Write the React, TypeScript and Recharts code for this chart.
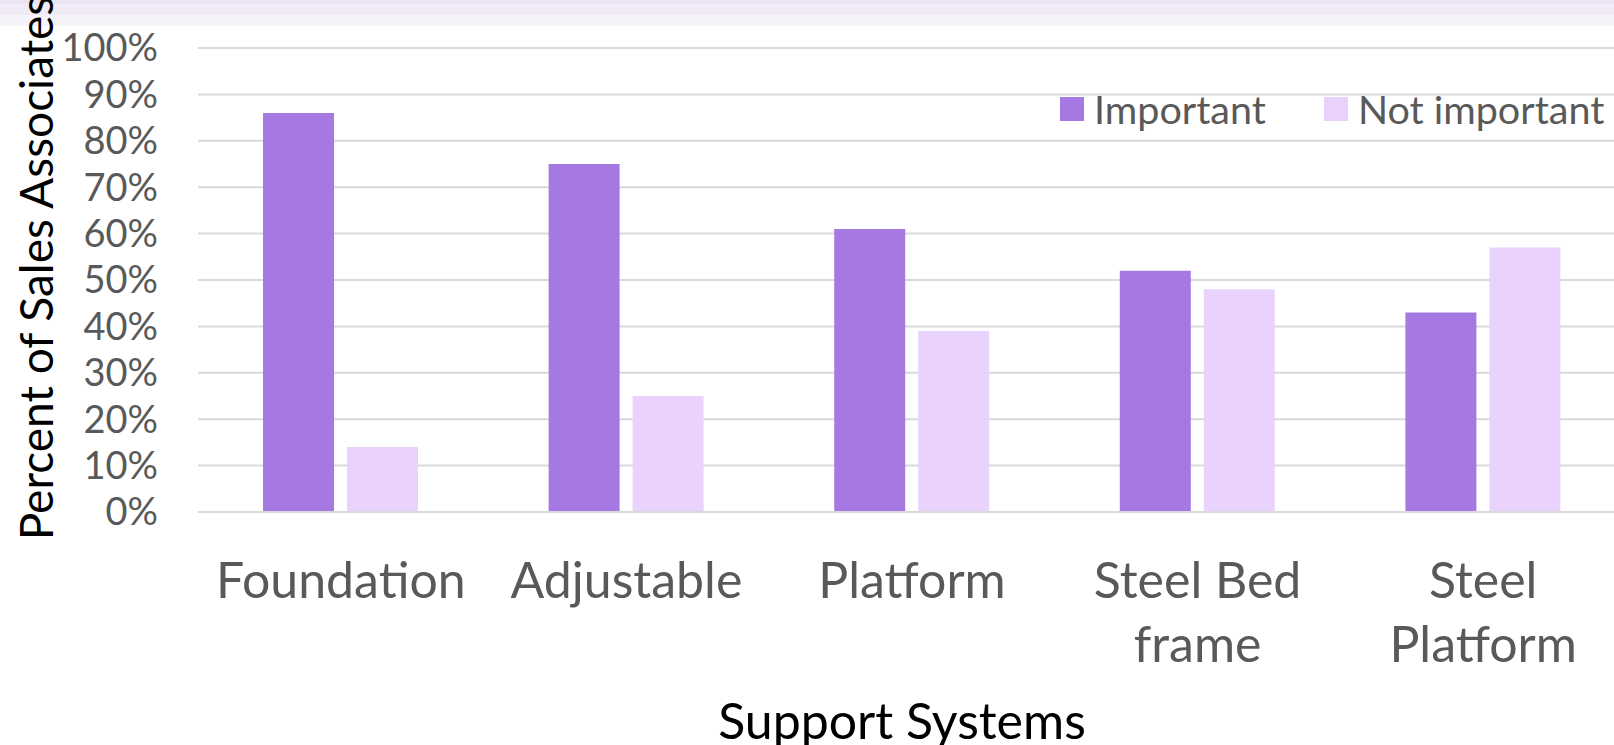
import React from 'react';
import { BarChart, Bar, XAxis, YAxis, CartesianGrid } from 'recharts';

const categories = ['Foundation', 'Adjustable', 'Platform', 'Steel Bed frame', 'Steel Platform'];
const important = [86, 75, 61, 52, 43];
const notImportant = [14, 25, 39, 48, 57];
const yTicks = [0, 10, 20, 30, 40, 50, 60, 70, 80, 90, 100];

const FONT = 'Lato, "Noto Sans", sans-serif';
const TEXT_GRAY = '#595959';
const PURPLE = '#a678e2';
const LILAC = '#e9d2fd';

const series = [
  { key: 'important', name: 'Important', color: PURPLE },
  { key: 'notImportant', name: 'Not important', color: LILAC },
];

const data = categories.map((name, i) => ({
  name,
  important: important[i],
  notImportant: notImportant[i],
}));

// split multi-word labels at the last space, like Excel does here
const wrapLabel = (s: string) => {
  const idx = s.lastIndexOf(' ');
  if (idx < 0) return [s];
  return [s.slice(0, idx), s.slice(idx + 1)];
};

const CategoryTick = (props: any) => {
  const { x, y, payload } = props;
  const lines = wrapLabel(payload.value);
  return (
    <text x={x} y={y} textAnchor="middle" fill={TEXT_GRAY} fontSize={50} fontFamily={FONT}>
      {lines.map((l, i) => (
        <tspan key={i} x={x} dy={i === 0 ? 84 : 64}>
          {l}
        </tspan>
      ))}
    </text>
  );
};

const App: React.FC = () => {
  return (
    <div style={{ position: 'fixed', left: 0, top: 0, width: 1614, height: 745, overflow: 'hidden', background: '#fff' }}>
      <div style={{ position: 'absolute', left: 0, top: 0, width: 1614, height: 4, background: '#ebe5f3' }} />
      <div style={{ position: 'absolute', left: 0, top: 4, width: 1614, height: 11, background: '#f0ebf7' }} />
      <div style={{ position: 'absolute', left: 0, top: 15, width: 1614, height: 11, background: '#f6f2fa' }} />
      <div style={{ position: 'absolute', left: 0, top: 0 }}>
        <BarChart
          width={1640}
          height={745}
          data={data}
          margin={{ top: 48, right: 14, left: 2, bottom: 0 }}
          barGap={13}
          barSize={71}
        >
          <CartesianGrid vertical={false} stroke="#d9d9d9" strokeWidth={2} />
          <XAxis
            dataKey="name"
            height={233}
            tickLine={false}
            tickSize={0}
            axisLine={{ stroke: '#d9d9d9', strokeWidth: 2 }}
            tick={<CategoryTick />}
            interval={0}
            label={{
              content: () => (
                <text x={902} y={739} textAnchor="middle" fill="#000" fontSize={50} fontFamily={FONT}>
                  Support Systems
                </text>
              ),
            }}
          />
          <YAxis
            width={196}
            domain={[0, 100]}
            ticks={yTicks}
            tickFormatter={(v: number) => `${v}%`}
            axisLine={false}
            tickLine={false}
            tickSize={0}
            tickMargin={40}
            tick={{ fill: TEXT_GRAY, fontSize: 38, fontFamily: FONT }}
            interval={0}
            label={{
              content: () => (
                <text
                  x={53}
                  y={268}
                  transform="rotate(-90 53 268)"
                  textAnchor="middle"
                  fill="#000"
                  fontSize={46}
                  fontFamily={FONT}
                >
                  Percent of Sales Associates
                </text>
              ),
            }}
          />
          {series.map((s) => (
            <Bar key={s.key} dataKey={s.key} name={s.name} fill={s.color} isAnimationActive={false} />
          ))}
        </BarChart>
      </div>
      <div
        style={{
          position: 'absolute',
          left: 1060,
          top: 89,
          height: 40,
          display: 'flex',
          alignItems: 'center',
          fontFamily: FONT,
          fontSize: 39.5,
          color: TEXT_GRAY,
          whiteSpace: 'nowrap',
        }}
      >
        {series.map((s, i) => (
          <div key={s.key} style={{ display: 'flex', alignItems: 'center', marginRight: i === 0 ? 58 : 0 }}>
            <span style={{ display: 'inline-block', width: 24, height: 24, background: s.color, marginRight: 10 }} />
            <span style={{ lineHeight: '40px' }}>{s.name}</span>
          </div>
        ))}
      </div>
    </div>
  );
};

export default App;
